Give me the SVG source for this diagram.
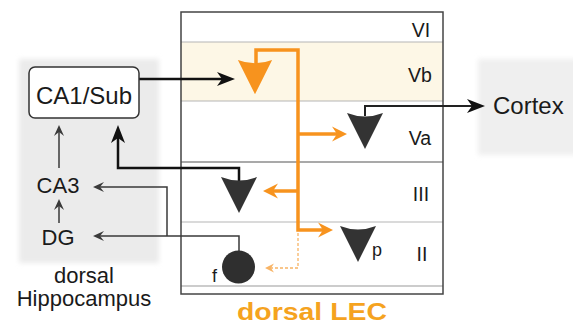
<svg xmlns="http://www.w3.org/2000/svg" xmlns:xlink="http://www.w3.org/1999/xlink" width="573" height="326" viewBox="0 0 573 326">
<style>
text{font-family:"Liberation Sans",Arial,sans-serif;fill:#1a1a1a}
.lbl{font-size:22px;text-anchor:middle}
.lay{font-size:19.5px;text-anchor:middle}
.thin{fill:none;stroke:#3a3a3a;stroke-width:1.5}
.thick{fill:none;stroke:#111;stroke-width:2.5}
.org{fill:none;stroke:#f7931e;stroke-width:3.5}
.sep{stroke:#b5b5b5;stroke-width:1}
</style>
<defs>
<filter id="soft" x="-10%" y="-10%" width="120%" height="120%"><feGaussianBlur stdDeviation="2.5"/></filter>
<path id="neuron" d="M-18,-1 Q0,6 18,-1 L0,35 Z"/>
<marker id="ahB" viewBox="-18 -8 20 16" refX="-8" refY="0" markerWidth="20" markerHeight="16" markerUnits="userSpaceOnUse" orient="auto"><path d="M0,0 L-18,-7 L-13,0 L-18,7 Z" fill="#111"/></marker>
<marker id="ahO" viewBox="-15 -8 17 16" refX="-6" refY="0" markerWidth="17" markerHeight="16" markerUnits="userSpaceOnUse" orient="auto"><path d="M0,0 L-15,-7.5 L-10,0 L-15,7.5 Z" fill="#f7931e"/></marker>
<marker id="ahT" viewBox="-11 -6 13 12" refX="-4" refY="0" markerWidth="13" markerHeight="12" markerUnits="userSpaceOnUse" orient="auto"><path d="M0,0 L-11,-5 L-7,0 L-11,5 Z" fill="#3a3a3a"/></marker>
<marker id="ahD" viewBox="-9 -5 11 10" refX="-3" refY="0" markerWidth="11" markerHeight="10" markerUnits="userSpaceOnUse" orient="auto"><path d="M0,0 L-9,-4.5 L-6,0 L-9,4.5 Z" fill="#f8b466"/></marker>
</defs>
<rect width="573" height="326" fill="#ffffff"/>
<!-- background regions -->
<rect x="19" y="59" width="140" height="204" fill="#ebebeb" filter="url(#soft)"/>
<rect x="478" y="59" width="100" height="96" fill="#efefef" filter="url(#soft)"/>
<!-- LEC layers box -->
<g id="lec">
<rect x="181" y="42" width="262" height="59" fill="#fdf7e6"/>
<line class="sep" x1="181" y1="42" x2="443" y2="42"/>
<line class="sep" x1="181" y1="101" x2="443" y2="101"/>
<line x1="181" y1="162" x2="443" y2="162" stroke="#555" stroke-width="1.2"/>
<line class="sep" x1="181" y1="222" x2="443" y2="222"/>
<line x1="181" y1="286" x2="443" y2="286" stroke="#999" stroke-width="1.2"/>
<rect x="181" y="12" width="262" height="282" fill="none" stroke="#444" stroke-width="1.5"/>
<text class="lay" x="421" y="37">VI</text>
<text class="lay" x="420" y="82">Vb</text>
<text class="lay" x="420" y="145">Va</text>
<text class="lay" x="421" y="201">III</text>
<text class="lay" x="422" y="261">II</text>
<text x="312" y="320" font-size="24" font-weight="bold" text-anchor="middle" textLength="150" lengthAdjust="spacingAndGlyphs" style="fill:#f5a31f">dorsal LEC</text>
</g>
<!-- connectors -->
<g id="connectors">
<path class="thick" d="M139,79 H227" marker-end="url(#ahB)"/>
<path class="thick" d="M239,181 V168 H118 V133" marker-end="url(#ahB)"/>
<path fill="none" stroke="#222" stroke-width="2" d="M365,116 V106 H477" marker-end="url(#ahB)"/>
<path class="thin" d="M239,251 V236 H97" marker-end="url(#ahT)"/>
<path class="thin" d="M167,236 V187 H97" marker-end="url(#ahT)"/>
<path class="thin" d="M59,168 V129" marker-end="url(#ahT)"/>
<path class="thin" d="M59,223 V203" marker-end="url(#ahT)"/>
<path class="org" d="M256,64 V50 H298 V230 H327" marker-end="url(#ahO)"/>
<path class="org" d="M298,134 H341" marker-end="url(#ahO)"/>
<path class="org" d="M298,191 H269" marker-end="url(#ahO)"/>
<path fill="none" stroke="#f8b466" stroke-width="1.3" stroke-dasharray="3,2" d="M298,233 V268 H268" marker-end="url(#ahD)"/>
</g>
<!-- nodes -->
<g id="ca1sub">
<rect x="29" y="67" width="110" height="51" rx="6" fill="#fff" stroke="#333" stroke-width="1.5"/>
<text x="84" y="104" font-size="24" text-anchor="middle">CA1/Sub</text>
</g>
<g id="ca3"><text class="lbl" x="58" y="193">CA3</text></g>
<g id="dg"><text class="lbl" x="58" y="245">DG</text></g>
<g id="hippo-label">
<text class="lbl" x="84" y="283">dorsal</text>
<text class="lbl" x="84" y="306">Hippocampus</text>
</g>
<g id="cortex"><text x="493" y="114" font-size="24">Cortex</text></g>
<g id="neuron-vb"><use href="#neuron" xlink:href="#neuron" transform="translate(255,61) scale(0.95)" fill="#f7931e"/></g>
<g id="neuron-va"><use href="#neuron" xlink:href="#neuron" transform="translate(365,114)" fill="#333"/></g>
<g id="neuron-iii"><use href="#neuron" xlink:href="#neuron" transform="translate(239,178)" fill="#333"/></g>
<g id="neuron-ii"><use href="#neuron" xlink:href="#neuron" transform="translate(358,227)" fill="#333"/>
<text x="372" y="256" font-size="18">p</text></g>
<g id="neuron-f"><circle cx="238.5" cy="267" r="16.5" fill="#2f2f2f"/>
<text x="212" y="282" font-size="18">f</text></g>
</svg>
